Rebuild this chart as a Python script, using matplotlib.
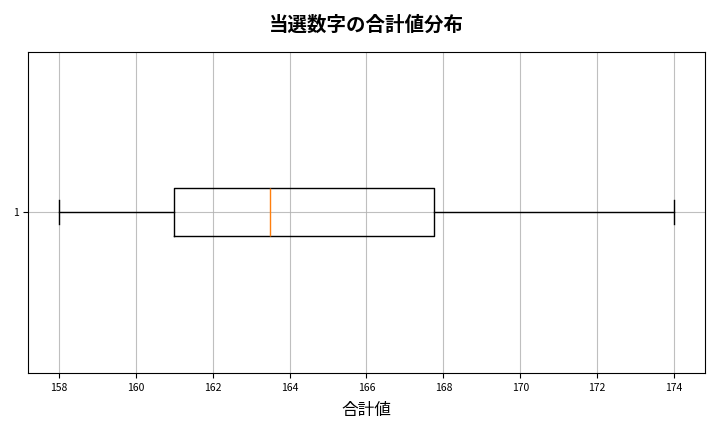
import matplotlib
matplotlib.use("Agg")
import matplotlib.pyplot as plt

plt.rcParams['font.family'] = ['Noto Sans CJK JP', 'DejaVu Sans']

# Box plot statistics for the sum of winning numbers
label = "1"
whisker_low = 158
q1 = 161
median = 163.5
q3 = 167.75
whisker_high = 174

stats = [{
    'label': label,
    'whislo': whisker_low,
    'q1': q1,
    'med': median,
    'q3': q3,
    'whishi': whisker_high,
    'fliers': [],
}]

fig = plt.figure(figsize=(7.2, 4.32), dpi=100)
ax = fig.add_axes([0.039, 0.137, 0.940, 0.743])
ax.bxp(stats, orientation='horizontal')
ax.set_xlim(157.2, 174.8)
ax.grid(True, alpha=0.8)
ax.tick_params(labelsize=7.5)
ax.set_title('当選数字の合計値分布', fontsize=14, fontweight='bold', pad=15)
ax.set_xlabel('合計値', fontsize=12, labelpad=7)

fig.savefig('out.png', dpi=100)
